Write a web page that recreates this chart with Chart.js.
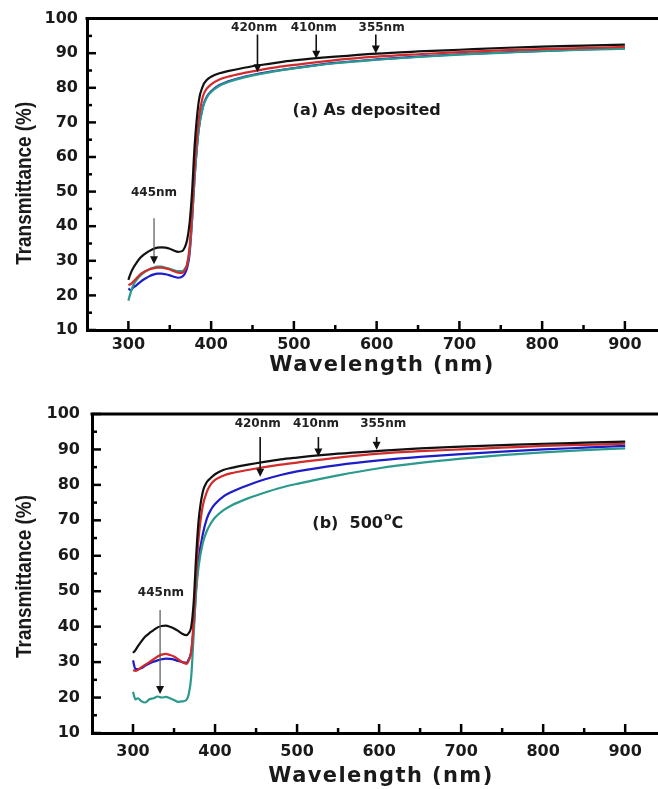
<!DOCTYPE html>
<html>
<head>
<meta charset="utf-8">
<script src="https://cdn.jsdelivr.net/npm/chart.js@4.4.1/dist/chart.umd.min.js"></script>
<style>
  html, body { margin: 0; padding: 0; background: #fff; }
  canvas { display: block; }
</style>
</head>
<body>
<canvas id="chartA" width="658" height="390"></canvas>
<canvas id="chartB" width="658" height="399"></canvas>
<script>
// wavelength grid (nm), shared by both panels
const wavelength = [300, 303, 306, 310, 315, 320, 325, 330, 335, 340, 345, 350, 355, 360, 365, 368, 371, 374, 377, 380,
    385, 390, 395, 400, 410, 420, 440, 460, 480, 500, 550, 600, 650, 700, 750, 800, 850, 900];

// (a) as deposited
const blackA = [24.5, 26.5, 28, 29.5, 31, 32, 32.8, 33.4, 33.8, 33.9, 33.8, 33.5, 33, 32.6, 32.8, 33.8, 36, 41, 50, 63,
    76, 80.5, 82.3, 83.2, 84.2, 84.8, 85.8, 86.6, 87.3, 87.9, 89, 89.9, 90.5, 91, 91.5, 91.9, 92.2, 92.5];
const redA = [23, 23.3, 24, 25, 26.2, 27, 27.5, 27.8, 28, 28, 27.8, 27.5, 27, 26.6, 26.5, 27.2, 29, 34, 44, 57,
    71, 77.5, 79.8, 81, 82.4, 83.2, 84.3, 85.2, 86, 86.6, 88, 89, 89.7, 90.3, 90.8, 91.2, 91.5, 91.8];
const blueA = [22, 21.5, 22.3, 23, 24, 24.8, 25.5, 26, 26.3, 26.3, 26.1, 25.8, 25.4, 25.1, 25.4, 26.2, 28, 32, 42, 54,
    68, 74.5, 77.5, 79, 80.8, 81.8, 83.2, 84.2, 85, 85.7, 87.2, 88.2, 89, 89.7, 90.2, 90.7, 91.1, 91.4];
const tealA = [18.5, 21, 23, 24.5, 25.8, 26.8, 27.5, 28, 28.3, 28.3, 28, 27.7, 27.3, 27, 27, 27.6, 29, 33, 42, 54,
    68, 74.3, 77.3, 78.8, 80.6, 81.6, 83, 84, 84.9, 85.6, 87.1, 88.1, 88.9, 89.6, 90.1, 90.6, 91, 91.3];

// (b) 500 C
const blackB = [32.6, 33.4, 34.5, 35.8, 37.2, 38.2, 39, 39.8, 40.2, 40.3, 40, 39.5, 38.8, 38, 37.6, 38.2, 40, 47, 60, 70,
    78, 80.8, 82, 83, 84.2, 84.8, 85.7, 86.5, 87.2, 87.7, 88.8, 89.6, 90.3, 90.8, 91.2, 91.6, 91.9, 92.2];
const redB = [27.7, 27.5, 27.8, 28.5, 29.3, 30, 30.8, 31.6, 32.1, 32.3, 32, 31.6, 30.8, 30, 29.5, 30.5, 33, 42, 55, 65,
    74, 78, 80.2, 81.4, 82.6, 83.3, 84.2, 85, 85.7, 86.3, 87.7, 88.8, 89.5, 90, 90.5, 91, 91.3, 91.6];
const blueB = [30.5, 28, 28, 28.3, 29, 29.6, 30.1, 30.5, 30.8, 31, 30.9, 30.7, 30.3, 30, 29.8, 30.8, 33, 40, 51, 59,
    66, 70.5, 73, 74.6, 76.7, 78, 79.9, 81.5, 82.8, 83.8, 85.6, 86.9, 87.9, 88.7, 89.4, 90, 90.5, 91];
const tealB = [21.6, 19.5, 19.8, 19, 18.6, 19.5, 19.8, 20.3, 20, 20.2, 19.8, 19.3, 18.8, 18.9, 19.3, 21, 26, 38, 50, 57,
    63.5, 67, 69.2, 70.8, 72.8, 74.2, 76.2, 77.8, 79.2, 80.3, 82.7, 84.7, 86.2, 87.4, 88.4, 89.2, 89.8, 90.3];

const xTicks = [300, 400, 500, 600, 700, 800, 900];
const xMinor = [350, 450, 550, 650, 750, 850];
const yTicks = [10, 20, 30, 40, 50, 60, 70, 80, 90, 100];
const yMinor = [15, 25, 35, 45, 55, 65, 75, 85, 95];

// arrows: wavelength, tail, tip, label and where the label sits
const notesA = [
    {x: 331, from: 42.3, to: 29, text: '445nm', lx: 331, ly: 49.6, thin: true},
    {x: 456, from: 95.4, to: 84.5, text: '420nm', lx: 452, ly: 97.4},
    {x: 527, from: 95.4, to: 88.4, text: '410nm', lx: 524, ly: 97.4},
    {x: 599, from: 95.4, to: 89.9, text: '355nm', lx: 606, ly: 97.4}
];
const notesB = [
    {x: 333, from: 44.7, to: 21, text: '445nm', lx: 334, ly: 49.5, thin: true},
    {x: 455, from: 93.5, to: 82.3, text: '420nm', lx: 452, ly: 97.2},
    {x: 526, from: 93.5, to: 88, text: '410nm', lx: 523, ly: 97.2},
    {x: 597, from: 93.5, to: 89.9, text: '355nm', lx: 605, ly: 97.2}
];

const colors = {black: '#111111', red: '#d42a2a', blue: '#1c1cc8', teal: '#2b9a8c'};
const FONT = "'DejaVu Sans', 'Liberation Sans', sans-serif";

function series(values, color) {
    return {
        data: wavelength.map((w, i) => ({x: w, y: values[i]})),
        borderColor: color,
        borderWidth: 2.2,
        pointRadius: 0,
        cubicInterpolationMode: 'monotone',
        fill: false
    };
}

function drawArrow(ctx, x, y1, y2, thin) {
    ctx.strokeStyle = thin ? '#555' : '#111';
    ctx.lineWidth = thin ? 1.2 : 1.6;
    ctx.beginPath();
    ctx.moveTo(x, y1);
    ctx.lineTo(x, y2 - 7);
    ctx.stroke();
    ctx.fillStyle = '#111';
    ctx.beginPath();
    ctx.moveTo(x - 4, y2 - 8);
    ctx.lineTo(x + 4, y2 - 8);
    ctx.lineTo(x, y2);
    ctx.closePath();
    ctx.fill();
}

function decor(notes, caption, box) {
    return {
        id: 'decor',
        afterDraw(chart) {
            const {ctx, chartArea: a, scales: {x, y}} = chart;
            ctx.save();
            // top frame line
            ctx.strokeStyle = '#000';
            ctx.lineWidth = 3;
            ctx.beginPath();
            ctx.moveTo(a.left - 1.5, a.top);
            ctx.lineTo(a.right, a.top);
            ctx.stroke();

            // inward ticks
            ctx.lineWidth = 2.5;
            const tick = (px, py, dx, dy) => {
                ctx.beginPath();
                ctx.moveTo(px, py);
                ctx.lineTo(px + dx, py + dy);
                ctx.stroke();
            };
            xTicks.forEach(v => tick(x.getPixelForValue(v), a.bottom, 0, -9));
            xMinor.forEach(v => tick(x.getPixelForValue(v), a.bottom, 0, -5));
            yTicks.forEach(v => tick(a.left, y.getPixelForValue(v), 9, 0));
            yMinor.forEach(v => tick(a.left, y.getPixelForValue(v), 5, 0));

            // axis titles
            ctx.fillStyle = '#1a1a1a';
            ctx.textAlign = 'center';
            ctx.textBaseline = 'middle';
            ctx.font = 'bold 21px ' + FONT;
            ctx.letterSpacing = '1.4px';
            ctx.fillText('Wavelength (nm)', box.xtx, a.bottom + box.xty);
            ctx.letterSpacing = '0px';

            ctx.save();
            ctx.translate(box.ytx, (a.top + a.bottom) / 2 + box.yty);
            ctx.rotate(-Math.PI / 2);
            ctx.scale(0.86, 1);
            ctx.font = "bold 22px 'Liberation Sans', Arial, sans-serif";
            ctx.fillText('Transmittance (%)', 0, 0);
            ctx.restore();

            // arrows + wavelength labels
            ctx.font = 'bold 12px ' + FONT;
            notes.forEach(n => {
                drawArrow(ctx, x.getPixelForValue(n.x), y.getPixelForValue(n.from), y.getPixelForValue(n.to), n.thin);
                ctx.fillStyle = '#222';
                ctx.fillText(n.text, x.getPixelForValue(n.lx), y.getPixelForValue(n.ly));
            });

            // panel caption
            ctx.fillStyle = '#1a1a1a';
            ctx.textAlign = 'left';
            const big = 'bold 16px ' + FONT;
            const small = 'bold 11px ' + FONT;
            ctx.font = big;
            let w = ctx.measureText(caption.text).width;
            let supW = 0, tailW = 0;
            if (caption.sup) {
                ctx.font = small;
                supW = ctx.measureText(caption.sup).width + 1;
                ctx.font = big;
                tailW = ctx.measureText(caption.tail).width;
            }
            let cx = x.getPixelForValue(caption.x) - (w + supW + tailW) / 2;
            const cy = y.getPixelForValue(caption.y);
            ctx.fillText(caption.text, cx, cy);
            if (caption.sup) {
                ctx.font = small;
                ctx.fillText(caption.sup, cx + w + 1, cy - 7);
                ctx.font = big;
                ctx.fillText(caption.tail, cx + w + supW, cy);
            }
            ctx.restore();
        }
    };
}

function makeChart(id, data, notes, caption, box) {
    const ctx = document.getElementById(id).getContext('2d');
    return new Chart(ctx, {
        type: 'line',
        data: {
            datasets: [
                series(data[0], colors.black),
                series(data[1], colors.red),
                series(data[3], colors.teal),
                series(data[2], colors.blue)
            ]
        },
        options: {
            responsive: false,
            animation: false,
            layout: {padding: {top: box.top, right: 0, bottom: 0, left: 0}},
            plugins: {
                legend: {display: false},
                tooltip: {enabled: false}
            },
            scales: {
                x: {
                    type: 'linear',
                    min: 250,
                    max: 940,
                    afterBuildTicks: s => { s.ticks = xTicks.map(v => ({value: v})); },
                    afterFit: s => { s.height = box.xh; },
                    grid: {drawOnChartArea: false, drawTicks: false},
                    border: {display: true, width: 3, color: '#000'},
                    ticks: {
                        padding: box.xpad,
                        color: '#1a1a1a',
                        font: {family: FONT, size: 16, weight: 'bold'}
                    }
                },
                y: {
                    min: 10,
                    max: 100,
                    afterBuildTicks: s => { s.ticks = yTicks.map(v => ({value: v})); },
                    afterFit: s => { s.width = box.left; },
                    grid: {drawOnChartArea: false, drawTicks: false},
                    border: {display: true, width: 3, color: '#000'},
                    ticks: {
                        padding: box.ypad,
                        color: '#1a1a1a',
                        font: {family: FONT, size: 16, weight: 'bold'}
                    }
                }
            }
        },
        plugins: [decor(notes, caption, box)]
    });
}

makeChart('chartA', [blackA, redA, blueA, tealA], notesA,
    {text: '(a) As deposited', x: 588, y: 73.2},
    {top: 14, left: 87, xh: 60, xpad: 5, ypad: 9, xtx: 382, xty: 36, ytx: 25, yty: 9});

makeChart('chartB', [blackB, redB, blueB, tealB], notesB,
    {text: '(b)  500', sup: 'o', tail: 'C', x: 574, y: 69},
    {top: 24, left: 92, xh: 56, xpad: 9, ypad: 12, xtx: 381, xty: 44, ytx: 25, yty: 3});
</script>
</body>
</html>
